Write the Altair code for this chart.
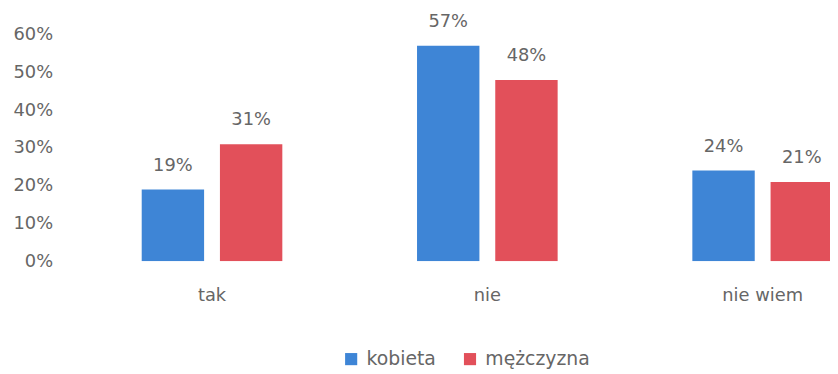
import altair as alt
import pandas as pd

categories = ["tak", "nie", "nie wiem"]
series = ["kobieta", "mężczyzna"]
kobieta = [0.19, 0.57, 0.24]
mezczyzna = [0.31, 0.48, 0.21]
colors = ["#3e85d6", "#e2505a"]

rows = []
for c, k, m in zip(categories, kobieta, mezczyzna):
    rows.append({"cat": c, "plec": series[0], "v": k})
    rows.append({"cat": c, "plec": series[1], "v": m})
df = pd.DataFrame(rows)

FONT = "DejaVu Sans"
GRAY = "#666666"

x = alt.X("cat:N", sort=categories, title=None,
          scale=alt.Scale(range=[0, 834], paddingInner=0, paddingOuter=0),
          axis=alt.Axis(labelAngle=0, ticks=False, domain=False, grid=False, labelPadding=26,
                        labelFont=FONT, labelFontSize=18, labelColor=GRAY))
xo = alt.XOffset("plec:N", sort=series,
                 scale=alt.Scale(paddingInner=0.2025, paddingOuter=0.861))
y = alt.Y("v:Q", title=None,
          scale=alt.Scale(domain=[0, 0.6], nice=False),
          axis=alt.Axis(values=[0, 0.1, 0.2, 0.3, 0.4, 0.5, 0.6], format=".0%",
                        grid=False, domain=False, ticks=False, labelPadding=22,
                        labelOverlap=False, labelFlush=False,
                        labelFont=FONT, labelFontSize=18, labelColor=GRAY))
color = alt.Color("plec:N", sort=series, title=None,
                  scale=alt.Scale(domain=series, range=colors),
                  legend=alt.Legend(orient="none", legendX=270, legendY=318,
                                    direction="horizontal", symbolType="square",
                                    symbolSize=150, symbolStrokeWidth=0,
                                    labelFont=FONT, labelFontSize=19, labelColor=GRAY,
                                    columnPadding=24, labelOffset=6))

bars = alt.Chart(df).mark_bar(clip=True).encode(x=x, xOffset=xo, y=y, color=color)
labels = alt.Chart(df).mark_text(baseline="middle", dy=-24, font=FONT, fontSize=18,
                                 color=GRAY, clip=False).encode(
    x=x, xOffset=xo, y=y,
    text=alt.Text("v:Q", format=".0%"))

chart = (bars + labels).properties(
    width=763, height=229,
    padding={"left": 67, "top": 25, "right": 0, "bottom": 112},
    autosize=alt.AutoSizeParams(type="none"),
).configure(background="white").configure_view(stroke=None).configure_axisY(
    labelOverlap=False)

chart.save("out.html", embed_options={"renderer": "svg", "actions": False})
